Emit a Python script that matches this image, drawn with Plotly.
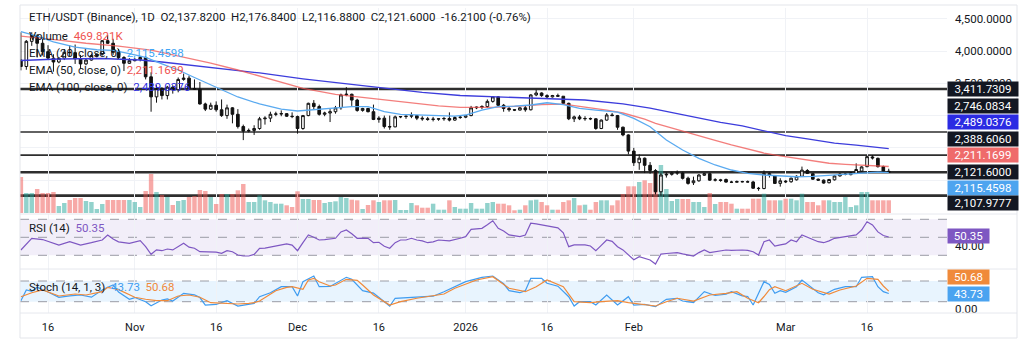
import pandas as pd
import plotly.graph_objects as go

# ---------------- data ----------------
start_date = "2025-10-11"

opens = [3860,3760,4150,4240,4120,3990,3890,3830,3890,3980,3975,3880,3800,3860,3930,3950,4160,4120,3980,3900,
         3810,3850,3870,3900,3600,3290,3420,3310,3440,3400,3560,3580,3420,3410,3180,3100,3160,3090,3000,3120,
         3020,2830,2760,2770,2800,2950,2960,3020,3025,3030,2990,2985,2800,3000,3190,3140,3020,3040,3060,3120,
         3320,3330,3240,3080,3110,3060,2940,2960,2830,2825,2980,2985,2990,3000,2960,2950,2940,2945,2950,2955,
         2930,2970,2975,3000,3120,3130,3140,3220,3290,3160,3110,3090,3085,3120,3090,3320,3350,3310,3290,3310,
         3300,3190,2950,2980,2950,2955,2950,2800,2930,3010,3000,2820,2700,2450,2270,2340,2230,2150,1820,2080,
         2090,2110,2110,2030,1960,1990,2076,2100,2000,2005,2010,1970,1968,1978,1975,1972,1875,1870,2100,2065,
         1950,1985,1975,2005,2060,2150,2100,2015,2000,1960,2005,2065,2090,2085,2106,2140,2209,2360,2338,2209,
         2137.82]
highs = [4290,4170,4290,4260,4210,4090,3950,3900,4030,4090,4100,3940,3890,3960,3960,4170,4250,4190,4030,3920,
         3890,3890,3920,3920,3670,3470,3440,3460,3470,3590,3650,3620,3560,3520,3200,3200,3220,3250,3170,3130,
         3100,2860,2800,2850,2980,2990,3060,3060,3080,3040,3050,3000,3010,3200,3240,3170,3060,3100,3150,3340,
         3440,3340,3260,3120,3120,3170,2990,3000,3000,3000,2990,3000,3050,3010,2990,2980,2980,2960,2980,3050,
         2990,3000,3010,3150,3140,3160,3250,3300,3300,3180,3140,3100,3130,3160,3330,3400,3360,3330,3320,3340,
         3300,3200,3000,3010,2990,2970,2960,2940,3040,3040,3010,2830,2710,2500,2400,2350,2280,2170,2110,2120,
         2130,2150,2130,2054,2054,2095,2110,2115,2030,2020,2025,1990,1995,1990,1995,1990,1895,2150,2120,2080,
         2030,2000,2040,2075,2210,2170,2110,2025,2010,2020,2075,2105,2110,2125,2260,2215,2380,2390,2350,2225,
         2176.84]
lows = [3700,3710,4080,3900,3930,3860,3680,3810,3860,3920,3800,3720,3780,3850,3900,3930,4110,3940,3880,3690,
        3800,3840,3840,3560,3060,3200,3250,3250,3340,3360,3540,3410,3400,3170,3070,3090,3060,2980,2950,2880,
        2800,2620,2740,2700,2780,2860,2900,2990,2990,2980,2960,2720,2780,2990,3100,3000,2990,2900,3030,3090,
        3300,3150,3060,3060,3050,2930,2890,2800,2780,2820,2960,2950,2960,2930,2920,2920,2910,2920,2920,2910,
        2920,2950,2960,2990,3100,3100,3120,3200,3150,3060,3060,3070,3080,3060,3080,3300,3290,3260,3280,3290,
        3180,2930,2900,2930,2920,2930,2780,2790,2920,2990,2780,2680,2400,2220,2160,2110,2100,1780,1760,2040,
        2070,2080,2010,1930,1925,1975,2065,1990,1980,1975,1960,1955,1960,1965,1965,1865,1835,1860,2040,1940,
        1900,1955,1960,1995,2050,2095,2005,1990,1945,1950,1995,2055,2075,2075,2100,2130,2200,2320,2195,2130,
        2116.88]
closes = [3760,4150,4240,4120,3990,3890,3830,3890,3980,3975,3880,3800,3860,3930,3950,4160,4120,3980,3900,3810,
          3850,3870,3900,3600,3290,3420,3310,3440,3400,3560,3580,3420,3410,3180,3100,3160,3090,3000,3120,3020,
          2830,2760,2770,2800,2950,2960,3020,3025,3030,2990,2985,2800,3000,3190,3140,3020,3040,3060,3120,3320,
          3330,3240,3080,3110,3060,2940,2960,2830,2825,2980,2985,2990,3000,2960,2950,2940,2945,2950,2955,2930,
          2970,2975,3000,3120,3130,3140,3220,3290,3160,3110,3090,3085,3120,3090,3320,3350,3310,3290,3310,3300,
          3190,2950,2980,2950,2955,2950,2800,2930,3010,3000,2820,2700,2450,2270,2340,2230,2150,1820,2080,2090,
          2110,2116,2028,1950,1990,2080,2100,2000,2005,1995,1970,1968,1978,1975,1972,1875,1870,2105,2075,1950,
          1990,1975,2030,2060,2155,2105,2015,2000,1955,2010,2065,2095,2092,2118,2165,2205,2364,2345,2209,2137.81,
          2121.60]
volume_k = [1332,740,740,888,740,740,777,259,370,481,555,555,444,407,148,333,481,481,481,481,
            481,407,222,814,1443,777,666,592,296,444,481,592,629,851,814,592,333,703,703,703,
            840,1073,407,407,655,470,407,344,344,285,222,803,518,518,481,481,370,407,433,592,
            555,492,470,148,296,470,407,470,470,481,111,111,370,285,196,196,344,122,122,470,
            222,159,159,370,159,159,370,407,344,344,285,100,122,285,470,492,407,285,122,122,
            407,470,555,285,307,122,407,470,470,285,470,703,988,988,1147,1210,1110,1517,1776,888,
            444,518,518,518,407,407,222,740,333,407,407,344,159,159,159,529,529,714,470,470,
            470,529,529,470,714,407,407,285,470,470,407,407,592,222,285,777,777,470,470,470,
            469.821]

# indicator lines (day index -> value)
ema20_idx = [0,3,6,10,14,17,20,23,26,29,32,35,38,40,44,48,51,55,59,61,64,67,70,73,77,80,82,85,88,91,94,97,
             100,103,106,110,113,116,119,122,125,128,131,134,137,140,143,146,150,153,156,158,160]
ema20_val = [4300,4230,4140,4060,4020,4010,3960,3900,3800,3706,3590,3474,3360,3288,3180,3100,3071,3097,3130,
             3140,3138,3060,3020,3009,2995,2993,3009,3086,3138,3145,3164,3199,3170,3113,3086,3055,2958,2828,
             2622,2467,2338,2235,2157,2106,2080,2064,2053,2060,2080,2095,2118,2125,2115.4598]
ema50_idx = [0,4,7,12,18,24,29,35,40,46,52,58,63,67,72,77,81,87,92,96,100,104,108,111,113,115,117,119,121,
             125,128,131,134,137,140,143,146,149,152,154,156,158,160]
ema50_val = [4232,4200,4170,4120,4077,4015,3923,3814,3706,3560,3423,3330,3280,3241,3190,3150,3128,3128,3148,
             3170,3179,3135,3085,3040,2995,2945,2880,2830,2790,2690,2615,2545,2480,2420,2375,2335,2295,2262,
             2245,2235,2232,2226,2211.1699]
ema100_idx = [0,7,15,22,26,33,40,44,52,60,67,74,81,88,92,98,104,111,116,121,125,129,133,137,141,145,150,
              154,157,160]
ema100_val = [3853,3876,3884,3861,3830,3768,3705,3660,3570,3490,3423,3360,3311,3290,3283,3268,3241,3180,3117,
              3030,2958,2895,2839,2760,2690,2640,2575,2544,2515,2489.0376]

rsi_idx = [0,2,4,7,9,11,13,15,16,17,18,20,22,23,24,25,26,27,28,29,30,31,32,33,35,36,37,38,39,40,41,42,43,44,
           45,46,48,49,50,51,52,53,54,55,56,57,58,59,60,61,62,63,64,65,66,67,68,69,70,71,72,73,74,75,76,77,78,
           79,81,82,83,84,85,86,87,88,89,90,91,92,93,94,95,96,97,98,99,100,101,102,103,104,105,106,107,108,109,
           110,111,112,113,114,115,116,117,118,119,120,121,122,123,124,125,126,127,128,129,130,131,132,133,134,
           135,136,137,138,139,140,141,142,143,144,145,146,147,148,149,150,151,152,153,154,155,156,157,158,159,160]
rsi_val = [35.9,48.9,47.5,41.4,45.1,41.4,44,47,52.6,48,45,43.3,46.2,39.6,31.1,36,35.1,37,36,40,43.3,39,37.8,34,
           34,33.5,32.2,35.1,34,30.3,29.2,29.2,31,37.8,38,39.2,41,42.6,41.4,35.1,44,52.6,50,47,47.5,48,48.9,56,
           58.1,54,48.9,49,48.9,44,44.5,40,37.8,44,47,47,48.9,47,46,44,45,47,46.5,46,48.9,50.7,58.9,59.5,60,64,
           68.4,60,57,52.6,52,50.7,52.6,65.6,65,63.7,62.5,61.8,60.5,55,39.6,41.5,41.4,41.5,40.3,35.1,41,47,45.5,
           39.6,36,30,25,28.4,26.5,24.8,20.3,31.4,32,32.5,33,31.5,30.3,29.2,33,35.9,33,34,35,35.9,35.5,35.9,35.9,
           35.5,34,30.3,45.1,47,40.3,41.5,42.6,47,45.1,52.6,50,47,45.1,44,46,48.9,50,51,51.4,52.6,58.1,67.3,63.7,
           56,52,50.35]

stk_idx = [0,1,2,3,5,7,9,11,13,15,16,17,18,20,21,23,24,26,27,28,30,32,33,34,36,38,40,42,43,44,46,48,50,51,52,
           54,55,57,60,61,63,65,67,68,69,72,74,76,78,80,82,85,87,89,90,92,93,94,96,97,99,101,102,103,105,106,
           108,110,112,113,115,117,119,121,122,124,126,128,130,131,133,134,135,137,138,139,140,141,143,144,145,
           147,148,150,152,154,155,157,158,159,160]
stk_val = [22.9,53.9,50,61.7,48,32.8,37,39.4,33,53.9,61.7,68.4,48,27,32,20,8,25,28,22,44.3,40,32,10.4,12,22.9,
           7.5,12,15,34.5,46.1,63.5,63.5,36.5,78,94.5,63.5,64,90.7,85,51.9,45,20,7.5,29.9,32,34.5,36,49,63.5,78,
           90.7,94.5,72,51.9,46.1,52,87.8,88,73.3,65,34.5,7.5,20,20,10.4,39.4,10.4,34.5,10.4,12,5.5,27,29.9,22,
           17.1,49,38,42,49,37,35,10.4,78,70,44.3,52,47,63.5,82.9,70,46.1,40,55.9,63.5,63.5,90.7,92.6,63.5,49,
           43.73]
std_idx = [0,2,4,7,10,12,15,16,18,21,23,25,27,29,31,33,35,38,40,42,43,44,45,47,49,50,52,53,54,55,57,58,60,
           62,63,65,68,70,73,75,78,80,84,87,90,93,95,97,100,102,105,107,110,112,114,117,119,121,124,127,130,132,
           134,136,137,138,139,141,144,146,149,151,154,156,158,159,160]
std_val = [34.5,46.1,53.9,36.5,42.3,39.4,49,61.7,55,32.8,27,22.9,22.9,36.5,39.4,32.8,17.1,15.4,13.3,15.4,17.1,
           22,32.8,51.9,61.7,63.5,55.9,82.9,87.8,78,65.5,68.4,84.9,82,68.4,39.4,10.4,20,30,34.5,42.3,58.8,82.9,
           92.6,58.8,49,63.5,82.9,63.5,20,17.1,20,22.9,17.1,13.3,7.5,20,29.9,22,39.4,44.3,49,29.9,17.1,35,55,
           63.5,51.9,73.3,55.9,42.3,53.9,65.5,87.8,84.9,65.5,50.68]

hline_levels = [3411.7309, 2746.0834, 2388.6060, 2121.6000, 1760.0]
hline_widths = [2.6, 1.3, 1.8, 2.6, 2.6]
tag_values = [3411.7309, 2746.0834, ema100_val[-1], 2388.6060, ema50_val[-1], closes[-1], ema20_val[-1], 2107.9777]
tag_colors = ["#131722", "#131722", "#2b2be3", "#131722", "#ef6b6b", "#131722", "#4ea4ef", "#131722"]
tag_pix = [89, 106, 122, 139, 155, 172, 188, 203]

price_ticks = [4500, 4000, 3500, 3000, 2500, 2000]
price_ticktext = ["4,500.0000", "4,000.0000", "3,500.0000", "", "", ""]
x_tick_dates = ["2025-10-16", "2025-11-01", "2025-11-16", "2025-12-01", "2025-12-16", "2026-01-01",
                "2026-01-16", "2026-02-01", "2026-03-01", "2026-03-16"]
x_tick_text = ["16", "Nov", "16", "Dec", "16", "2026", "16", "Feb", "Mar", "16"]

# ---------------- layout geometry ----------------
W, H = 1024, 350
ML, MR, MT, MB = 20, 77, 8, 37
PW, PH = W - ML - MR, H - MT - MB


def yp(pix):
    return (H - MB - pix) / PH


def xp(pix):
    return (pix - ML) / PW


dates = pd.date_range(start_date, periods=len(closes), freq="D")
px_per_day, first_px = 5.424, 20.9
x_left = dates[0] + pd.Timedelta(days=(ML - first_px) / px_per_day)
x_right = dates[0] + pd.Timedelta(days=(W - MR - first_px) / px_per_day)

scale = (172.3 - 89) / (3411.7309 - 2121.6)
p_top = 3411.7309 + (89 - MT) / scale
p_bot = 3411.7309 - (213 - 89) / scale
vol_per_px = 37.0
rsi_top = 70 + (219.3 - 214) / 0.9
rsi_bot = 30 - (269 - 255.3) / 0.9
st_top = 80 + (281 - 269) / 0.345
st_bot = 20 - (313 - 301.7) / 0.345


def at(idx):
    return [dates[i] for i in idx]


FONT = "Roboto, Liberation Sans, sans-serif"
fig = go.Figure()

vol_colors = ["rgba(38,166,154,0.5)" if c >= o else "rgba(239,83,80,0.5)" for o, c in zip(opens, closes)]
fig.add_trace(go.Bar(x=dates, y=volume_k, marker=dict(color=vol_colors, line=dict(width=0)),
                     yaxis="y", xaxis="x", hoverinfo="skip"))
fig.add_trace(go.Scatter(x=at(ema100_idx), y=ema100_val, mode="lines", yaxis="y2",
                         line=dict(color="#3c3cdc", width=1.3)))
fig.add_trace(go.Scatter(x=at(ema50_idx), y=ema50_val, mode="lines", yaxis="y2",
                         line=dict(color="rgba(239,83,80,0.75)", width=1.3)))
fig.add_trace(go.Scatter(x=at(ema20_idx), y=ema20_val, mode="lines", yaxis="y2",
                         line=dict(color="#5aaaf0", width=1.3)))
fig.add_trace(go.Candlestick(x=dates, open=opens, high=highs, low=lows, close=closes, yaxis="y2",
                             increasing=dict(line=dict(color="#111111", width=1), fillcolor="#ffffff"),
                             decreasing=dict(line=dict(color="#111111", width=1), fillcolor="#111111"),
                             whiskerwidth=0))
fig.add_trace(go.Scatter(x=at(rsi_idx), y=rsi_val, mode="lines", yaxis="y3",
                         line=dict(color="#7e57c2", width=1.2)))
fig.add_trace(go.Scatter(x=at(stk_idx), y=stk_val, mode="lines", yaxis="y4",
                         line=dict(color="#3f9cf0", width=1.2)))
fig.add_trace(go.Scatter(x=at(std_idx), y=std_val, mode="lines", yaxis="y4",
                         line=dict(color="#f08a3a", width=1.2)))

shapes = []
# indicator bands
shapes.append(dict(type="rect", xref="x domain", x0=0, x1=1, yref="y3", y0=30, y1=70,
                   fillcolor="rgba(126,87,194,0.10)", line=dict(width=0), layer="below"))
for v in (70, 50, 30):
    shapes.append(dict(type="line", xref="x domain", x0=0, x1=1, yref="y3", y0=v, y1=v,
                       line=dict(color="#9a9ca5", width=1, dash="dash"), layer="below"))
shapes.append(dict(type="rect", xref="x domain", x0=0, x1=1, yref="y4", y0=20, y1=80,
                   fillcolor="rgba(33,150,243,0.10)", line=dict(width=0), layer="below"))
for v in (80, 20):
    shapes.append(dict(type="line", xref="x domain", x0=0, x1=1, yref="y4", y0=v, y1=v,
                       line=dict(color="#9a9ca5", width=1, dash="dash"), layer="below"))
# horizontal levels
for lv, lw in zip(hline_levels, hline_widths):
    shapes.append(dict(type="line", xref="x domain", x0=0, x1=1, yref="y2", y0=lv, y1=lv,
                       line=dict(color="#2e2e2e", width=lw), layer="below"))
# pane separators and frame
for sp in (214, 269, 313):
    shapes.append(dict(type="line", xref="paper", x0=0, x1=xp(1017), yref="paper", y0=yp(sp), y1=yp(sp),
                       line=dict(color="#e6e8ee", width=1)))
shapes.append(dict(type="rect", xref="paper", x0=0, x1=xp(1017), yref="paper", y0=yp(338), y1=yp(5),
                   line=dict(color="#e3e5ea", width=1), fillcolor="rgba(0,0,0,0)"))

ann = []


def txt(x, y, text, size=11.5):
    ann.append(dict(xref="paper", yref="paper", x=xp(x), y=yp(y), xanchor="left", yanchor="middle",
                    text=text, showarrow=False, font=dict(family=FONT, size=size, color="#131722")))


def fmt(v):
    return f"{v:,.4f}"


chg = closes[-1] - closes[-2]
pct = chg / closes[-2] * 100
sp2 = "\u00a0\u00a0"
header = (f"ETH/USDT (Binance), 1D{sp2}O{fmt(opens[-1])}{sp2}H{fmt(highs[-1])}{sp2}L{fmt(lows[-1])}"
          f"{sp2}C{fmt(closes[-1])}{sp2}{chg:,.4f} ({pct:.2f}%)")
txt(27, 17, header)
txt(27, 36, f"Volume{sp2}<span style='color:#ef5350'>{volume_k[-1]:.3f}K</span>")
txt(27, 53, f"EMA (20, close, 0){sp2}<span style='color:#42a5f5'>{fmt(ema20_val[-1])}</span>")
txt(27, 70, f"EMA (50, close, 0){sp2}<span style='color:#ef5350'>{fmt(ema50_val[-1])}</span>")
txt(27, 87, f"EMA (100, close, 0){sp2}<span style='color:#3030e0'>{fmt(ema100_val[-1])}</span>")
txt(27, 228, f"RSI (14){sp2}<span style='color:#7e57c2'>{rsi_val[-1]:.2f}</span>")
txt(27, 287, f"Stoch (14, 1, 3){sp2}<span style='color:#3f9cf0'>{stk_val[-1]:.2f}</span>"
             f"{sp2}<span style='color:#f08a3a'>{std_val[-1]:.2f}</span>")

# right side value tags
for v, col, pix in zip(tag_values, tag_colors, tag_pix):
    ann.append(dict(xref="paper", yref="paper", x=xp(947), y=yp(pix), xanchor="left", yanchor="middle",
                    text=fmt(v), showarrow=False, bgcolor=col, borderpad=1, width=68, height=12,
                    font=dict(family=FONT, size=11.5, color="#ffffff")))
for v, col, pix in ((rsi_val[-1], "#7e57c2", 236), (std_val[-1], "#f08a3a", 277), (stk_val[-1], "#4aa3f0", 294)):
    ann.append(dict(xref="paper", yref="paper", x=xp(947), y=yp(pix), xanchor="left", yanchor="middle",
                    text=f"{v:.2f}", showarrow=False, bgcolor=col, borderpad=1, width=39, height=12,
                    font=dict(family=FONT, size=11.5, color="#ffffff")))

tickfont = dict(family=FONT, size=11.5, color="#131722")
fig.update_layout(
    width=W, height=H, margin=dict(l=ML, r=MR, t=MT, b=MB),
    paper_bgcolor="#ffffff", plot_bgcolor="#ffffff", showlegend=False, bargap=0.18,
    shapes=shapes, annotations=ann,
    xaxis=dict(type="date", range=[x_left, x_right], anchor="y4", domain=[0, 1],
               tickvals=x_tick_dates, ticktext=x_tick_text, tickfont=dict(family=FONT, size=11, color="#131722"),
               showgrid=True, gridcolor="#f0f2f6", gridwidth=1, zeroline=False, showline=False,
               ticks="", rangeslider=dict(visible=False), ticklabelstandoff=6),
    yaxis=dict(domain=[yp(213), 1], range=[0, (213 - MT) * vol_per_px], visible=False, fixedrange=True),
    yaxis2=dict(overlaying="y", side="right", anchor="x", range=[p_bot, p_top], tickvals=price_ticks,
                ticktext=price_ticktext, tickfont=tickfont, showgrid=True, gridcolor="#f0f2f6",
                zeroline=False, showline=False, ticks="", ticklabelstandoff=7),
    yaxis3=dict(domain=[yp(269), yp(214)], anchor="x", side="right", range=[rsi_bot, rsi_top],
                tickvals=[40], ticktext=["40.00"], tickfont=tickfont, showgrid=False, zeroline=False,
                ticks="", ticklabelstandoff=7),
    yaxis4=dict(domain=[0, yp(269)], anchor="x", side="right", range=[st_bot, st_top],
                tickvals=[0], ticktext=["0.00"], tickfont=tickfont, showgrid=False, zeroline=False,
                ticks="", ticklabelstandoff=7),
)

fig.write_html("out.html")
